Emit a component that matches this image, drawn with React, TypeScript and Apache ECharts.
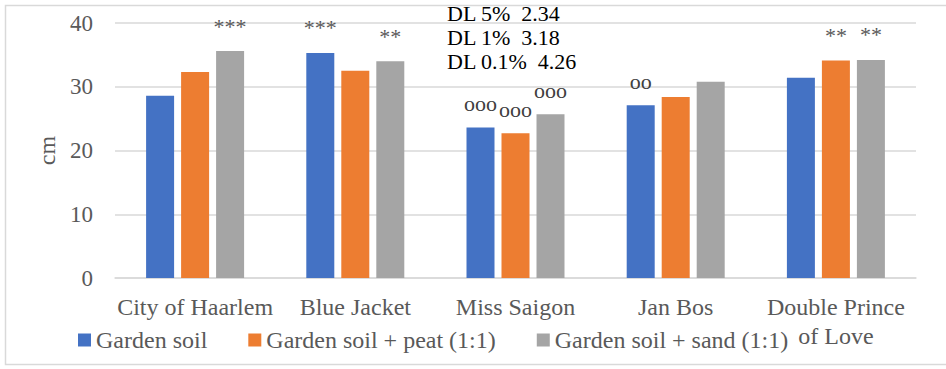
import React, { useEffect, useRef } from "react";
import * as echarts from "echarts";

const categories = ["City of Haarlem", "Blue Jacket", "Miss Saigon", "Jan Bos", "Double Prince\nof Love"];
const seriesNames = ["Garden soil", "Garden soil + peat (1:1)", "Garden soil + sand (1:1)"];
const gardenSoil = [28.6, 35.3, 23.6, 27.1, 31.4];
const gardenPeat = [32.3, 32.5, 22.7, 28.4, 34.1];
const gardenSand = [35.6, 34.0, 25.7, 30.8, 34.2];
const marksSoil = ["", "***", "ooo", "oo", ""];
const marksPeat = ["", "", "ooo", "", "**"];
const marksSand = ["***", "**", "ooo", "", "**"];
const dlLines = ["DL 5%  2.34", "DL 1%  3.18", "DL 0.1%  4.26"];
const yTicks = { min: 0, max: 40, interval: 10 };
const colors = ["#4472C4", "#ED7D31", "#A5A5A5"];

const FONT = "Liberation Serif";

function buildData(values: number[], marks: string[]) {
  return values.map((v, i) => {
    const m = marks[i];
    if (!m) return { value: v };
    const isO = m.startsWith("o");
    return {
      value: v,
      label: {
        show: true,
        position: "top",
        distance: isO ? 13 : 14,
        formatter: m,
        fontFamily: FONT,
        fontSize: 22,
        color: isO ? "#404040" : "#595959",
      },
    };
  });
}

export default function App() {
  const ref = useRef<HTMLDivElement>(null);
  useEffect(() => {
    if (!ref.current) return;
    const chart = echarts.init(ref.current, null, { renderer: "svg" });
    const allValues = [gardenSoil, gardenPeat, gardenSand];
    const allMarks = [marksSoil, marksPeat, marksSand];
    chart.setOption({
      animation: false,
      color: colors,
      textStyle: { fontFamily: FONT },
      grid: { left: 115, right: 30, top: 23, bottom: 91, containLabel: false },
      legend: {
        data: seriesNames,
        left: 78,
        top: 328,
        padding: 0,
        itemGap: 41,
        itemWidth: 13,
        itemHeight: 13,
        icon: "rect",
        textStyle: { fontFamily: FONT, fontSize: 24, color: "#595959" },
      },
      xAxis: {
        type: "category",
        data: categories,
        axisLine: { lineStyle: { color: "#d9d9d9", width: 1.5 } },
        axisTick: { show: false },
        axisLabel: {
          fontFamily: FONT,
          fontSize: 24,
          color: "#595959",
          margin: 14,
          lineHeight: 29,
          interval: 0,
        },
      },
      yAxis: {
        type: "value",
        min: yTicks.min,
        max: yTicks.max,
        interval: yTicks.interval,
        name: "cm",
        nameLocation: "middle",
        nameRotate: 90,
        nameGap: 53,
        nameTextStyle: { fontFamily: FONT, fontSize: 24, color: "#595959" },
        axisLine: { show: false },
        axisTick: { show: false },
        splitLine: { lineStyle: { color: "#d9d9d9", width: 1.5 } },
        axisLabel: { fontFamily: FONT, fontSize: 23, color: "#595959", margin: 22 },
      },
      series: seriesNames.map((name, si) => ({
        name,
        type: "bar",
        barWidth: 28,
        barGap: "25%",
        data: buildData(allValues[si], allMarks[si]),
      })),
      graphic: [
        {
          type: "rect",
          shape: { x: 5.5, y: 5.5, width: 950, height: 359 },
          style: { fill: "none", stroke: "#d9d9d9", lineWidth: 1.5 },
          silent: true,
        },
        ...dlLines.map((t, i) => ({
          type: "text",
          left: 447,
          top: 2 + i * 24,
          style: { text: t, fontFamily: FONT, fontSize: 22, fill: "#000" },
        })),
      ],
    });
    return () => chart.dispose();
  }, []);
  return (
    <div
      ref={ref}
      style={{ position: "fixed", left: 0, top: 0, width: 946, height: 369, background: "#fff" }}
    />
  );
}
